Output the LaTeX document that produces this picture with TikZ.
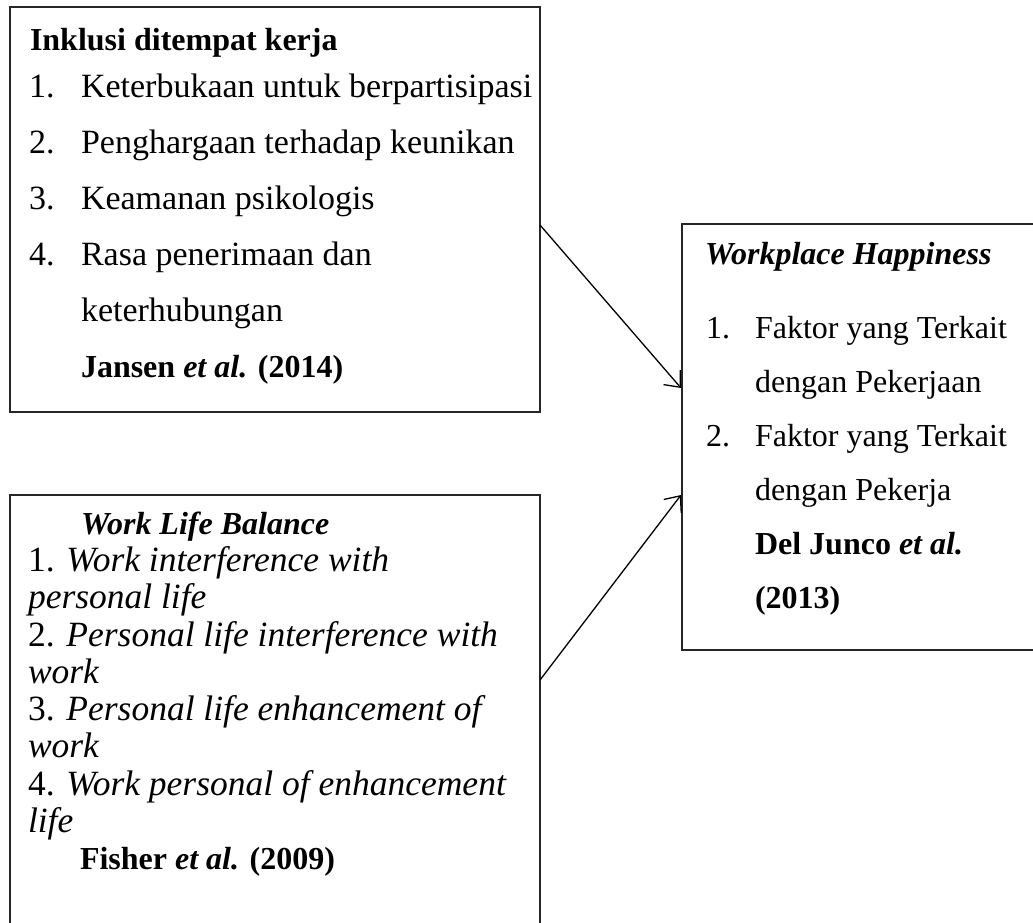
\documentclass[tikz,border=0pt]{standalone}
\usepackage{fontspec}
\setmainfont{Liberation Serif}
\usetikzlibrary{arrows.meta}
\begin{document}
\begin{tikzpicture}[x=1pt,y=-1pt,
  boxstyle/.style={draw=black!85, line width=1.4pt, rectangle, inner sep=0pt, outer sep=0pt, anchor=north west},
  txt/.style={anchor=base west, inner sep=0pt, outer sep=0pt, font=\fontsize{32}{38}\selectfont},
  txtb/.style={txt, font=\fontsize{34}{40}\selectfont},
  txti/.style={txt, font=\fontsize{35.5}{40}\selectfont},
  arr/.style={line width=1.3pt, -{Straight Barb[length=13pt,width=22pt]}}]
\useasboundingbox (0,0) rectangle (1033,922);
\clip (0,0) rectangle (1033,922);
% boxes
\node[boxstyle, minimum width=530pt, minimum height=405pt] (b1) at (10,7) {};
\node[boxstyle, minimum width=530pt, minimum height=450pt] (b2) at (10,495) {};
\node[boxstyle, minimum width=375pt, minimum height=426pt] (b3) at (682,224) {};
% box 1 text
\node[txt] (h1) at (30,50) {\textbf{Inklusi ditempat kerja}};
\node[txtb] (n11) at (29,97) {1.};
\node[txtb] (i11) at (81,97) {Keterbukaan untuk berpartisipasi};
\node[txtb] (n12) at (29,153) {2.};
\node[txtb] (i12) at (81,153) {Penghargaan terhadap keunikan};
\node[txtb] (n13) at (29,209) {3.};
\node[txtb] (i13) at (81,209) {Keamanan psikologis};
\node[txtb] (n14) at (29,265) {4.};
\node[txtb] (i14) at (81,265) {Rasa penerimaan dan};
\node[txtb] (i15) at (81,321) {keterhubungan};
\node[txt] (r1) at (81,377) {\textbf{Jansen \textit{et al.} (2014)}};
% box 2 text
\node[txt] (h2) at (81,534) {\textbf{\textit{Work Life Balance}}};
\node[txti] (i21) at (28,571) {1. \textit{Work interference with}};
\node[txti] (i22) at (28,608) {\textit{personal life}};
\node[txti] (i23) at (28,646) {2. \textit{Personal life interference with}};
\node[txti] (i24) at (28,683) {\textit{work}};
\node[txti] (i25) at (28,720) {3. \textit{Personal life enhancement of}};
\node[txti] (i26) at (28,757) {\textit{work}};
\node[txti] (i27) at (28,795) {4. \textit{Work personal of enhancement}};
\node[txti] (i28) at (28,832) {\textit{life}};
\node[txt] (r2) at (80,869) {\textbf{Fisher \textit{et al.} (2009)}};
% box 3 text
\node[txt] (h3) at (705,264) {\textbf{\textit{Workplace Happiness}}};
\node[txt] (n31) at (706,338) {1.};
\node[txt] (i31) at (755,338) {Faktor yang Terkait};
\node[txt] (i32) at (755,392) {dengan Pekerjaan};
\node[txt] (n33) at (706,446) {2.};
\node[txt] (i33) at (755,446) {Faktor yang Terkait};
\node[txt] (i34) at (755,500) {dengan Pekerja};
\node[txt] (r3) at (755,554) {\textbf{Del Junco \textit{et al.}}};
\node[txt] (r3b) at (755,608) {\textbf{(2013)}};
% connectors
\coordinate (a1s) at (540,225);
\coordinate (a1e) at (681,388);
\coordinate (a2s) at (540,680);
\coordinate (a2e) at (681,495);
\draw[arr] (a1s) -- (a1e);
\draw[arr] (a2s) -- (a2e);
\end{tikzpicture}
\end{document}
